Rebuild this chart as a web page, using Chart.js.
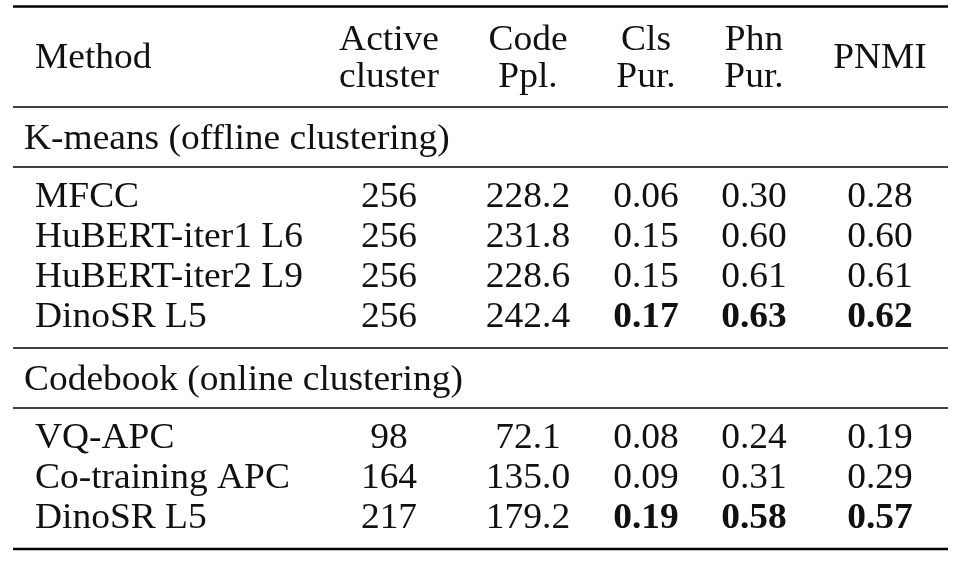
<!DOCTYPE html>
<html>
<head>
<meta charset="utf-8">
<script src="https://cdn.jsdelivr.net/npm/chart.js@4.4.0/dist/chart.umd.min.js"></script>
<style>
    html, body { margin: 0; padding: 0; background: #fff; }
    canvas { display: block; }
</style>
</head>
<body>
<canvas id="clusterTable" width="958" height="563"></canvas>
<script>
// ============================================
// 表格資料
// ============================================
const columns = ['Method', 'Active\ncluster', 'Code\nPpl.', 'Cls\nPur.', 'Phn\nPur.', 'PNMI'];
const groups = ['K-means (offline clustering)', 'Codebook (online clustering)'];
const methods = [
    ['MFCC', 'HuBERT-iter1 L6', 'HuBERT-iter2 L9', 'DinoSR L5'],
    ['VQ-APC', 'Co-training APC', 'DinoSR L5']
];
const activeCluster = [[256, 256, 256, 256], [98, 164, 217]];
const codePpl = [[228.2, 231.8, 228.6, 242.4], [72.1, 135.0, 179.2]];
const clsPur = [[0.06, 0.15, 0.15, 0.17], [0.08, 0.09, 0.19]];
const phnPur = [[0.30, 0.60, 0.61, 0.63], [0.24, 0.31, 0.58]];
const pnmi = [[0.28, 0.60, 0.61, 0.62], [0.19, 0.29, 0.57]];

// 數值欄：資料、小數位數、是否將組內最大值加粗
const valueCols = [
    { values: activeCluster, digits: 0, boldBest: false },
    { values: codePpl, digits: 1, boldBest: false },
    { values: clsPur, digits: 2, boldBest: true },
    { values: phnPur, digits: 2, boldBest: true },
    { values: pnmi, digits: 2, boldBest: true }
];

// ============================================
// 版面設定
// ============================================
const W = 958, H = 563;
const FONT = '"Liberation Serif", "Times New Roman", "DejaVu Serif", serif';
const FONT_SIZE = 35;
const STRETCH_X = 1.07;         // 原圖文字略寬
const CAP_HALF = 11.5;          // 讓文字視覺上置中於列中心
const HEADER_LINE = 37;
const colX = [35, 389, 528, 646, 754, 880];
const groupX = 24;
const ruleLeft = 13, ruleRight = 948;

// 依序累加各列高度，算出列中心與橫線位置
const rules = [];
const headerY = (6.5 + 107) / 2;
rules.push({ y: 6.5, w: 2.6 });
rules.push({ y: 107, w: 1.7 });
let cursor = 107;
const groupY = [];
const rowY = [];
groups.forEach(function (g, gi) {
    groupY.push(cursor + 30);
    cursor += 60;
    rules.push({ y: cursor, w: 1.7 });
    cursor += 8;
    rowY.push(methods[gi].map(function (m, i) { return cursor + 20 + i * 40; }));
    cursor += methods[gi].length * 40 + 13;
    rules.push({ y: cursor, w: gi === groups.length - 1 ? 2.6 : 1.7 });
});

// ============================================
// 建立資料集（每個儲存格為一個點，文字畫在點的位置）
// ============================================
const datasets = [];

datasets.push({
    label: 'header',
    data: columns.map(function (c, i) { return { x: colX[i], y: headerY }; }),
    texts: columns,
    align: columns.map(function (c, i) { return i === 0 ? 'left' : 'center'; }),
    bold: columns.map(function () { return false; })
});

datasets.push({
    label: 'groups',
    data: groups.map(function (g, gi) { return { x: groupX, y: groupY[gi] }; }),
    texts: groups,
    align: groups.map(function () { return 'left'; }),
    bold: groups.map(function () { return false; })
});

groups.forEach(function (g, gi) {
    datasets.push({
        label: 'methods-' + gi,
        data: methods[gi].map(function (m, i) { return { x: colX[0], y: rowY[gi][i] }; }),
        texts: methods[gi],
        align: methods[gi].map(function () { return 'left'; }),
        bold: methods[gi].map(function () { return false; })
    });
    valueCols.forEach(function (col, ci) {
        const vals = col.values[gi];
        const best = Math.max.apply(null, vals);
        datasets.push({
            label: 'col' + ci + '-' + gi,
            data: vals.map(function (v, i) { return { x: colX[ci + 1], y: rowY[gi][i] }; }),
            texts: vals.map(function (v) { return v.toFixed(col.digits); }),
            align: vals.map(function () { return 'center'; }),
            bold: vals.map(function (v) { return col.boldBest && v === best; })
        });
    });
});

// ============================================
// 外掛：畫橫線與儲存格文字
// ============================================
const tablePlugin = {
    id: 'tablePlugin',
    beforeDatasetsDraw: function (chart) {
        const ctx = chart.ctx;
        const xs = chart.scales.x, ys = chart.scales.y;
        ctx.save();
        ctx.strokeStyle = '#000';
        rules.forEach(function (r) {
            const y = ys.getPixelForValue(r.y);
            ctx.lineWidth = r.w;
            ctx.beginPath();
            ctx.moveTo(xs.getPixelForValue(ruleLeft), y);
            ctx.lineTo(xs.getPixelForValue(ruleRight), y);
            ctx.stroke();
        });
        ctx.restore();
    },
    afterDatasetsDraw: function (chart) {
        const ctx = chart.ctx;
        ctx.save();
        ctx.fillStyle = '#111';
        ctx.textBaseline = 'alphabetic';
        chart.data.datasets.forEach(function (ds, di) {
            const meta = chart.getDatasetMeta(di);
            meta.data.forEach(function (el, i) {
                const lines = String(ds.texts[i]).split('\n');
                ctx.font = (ds.bold[i] ? 'bold ' : '') + FONT_SIZE + 'px ' + FONT;
                ctx.textAlign = ds.align[i];
                lines.forEach(function (line, li) {
                    const dy = (li - (lines.length - 1) / 2) * HEADER_LINE + CAP_HALF;
                    ctx.save();
                    ctx.translate(el.x, el.y + dy);
                    ctx.scale(STRETCH_X, 1);
                    ctx.fillText(line, 0, 0);
                    ctx.restore();
                });
            });
        });
        ctx.restore();
    }
};

document.addEventListener('DOMContentLoaded', function () {
    const canvas = document.getElementById('clusterTable');
    new Chart(canvas, {
        type: 'scatter',
        data: { datasets: datasets },
        options: {
            responsive: false,
            animation: false,
            layout: { padding: 0 },
            elements: { point: { radius: 0, hoverRadius: 0 } },
            plugins: {
                legend: { display: false },
                tooltip: { enabled: false }
            },
            scales: {
                x: { type: 'linear', min: 0, max: W, display: false },
                y: { type: 'linear', min: 0, max: H, reverse: true, display: false }
            }
        },
        plugins: [tablePlugin]
    });
});
</script>
</body>
</html>
